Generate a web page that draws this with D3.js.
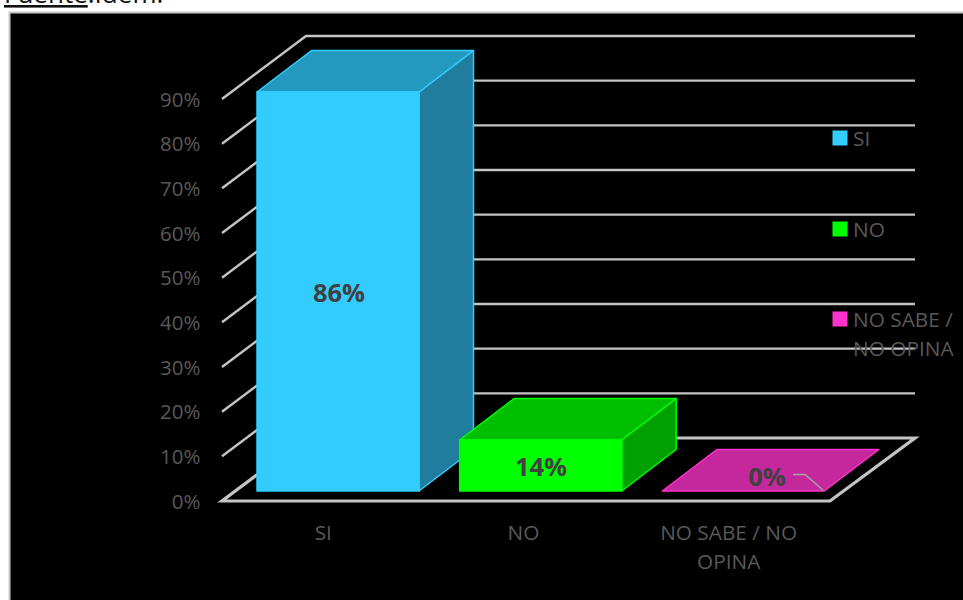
<!DOCTYPE html>
<html><head><meta charset="utf-8">
<script src="https://cdnjs.cloudflare.com/ajax/libs/d3/7.8.5/d3.min.js"></script>
<style>html,body{margin:0;padding:0;background:#fff;overflow:hidden}svg{display:block}text{font-family:"Open Sans",sans-serif}</style>
</head><body><svg id="c" width="963" height="600"></svg>
<script>
const categories = ["SI","NO","NO SABE / NO OPINA"];
const categoryLines = [["SI"],["NO"],["NO SABE / NO","OPINA"]];
const values = [86,14,0];
const valueLabels = ["86%","14%","0%"];
const axisTicks = [0,10,20,30,40,50,60,70,80,90];
const legendLines = [["SI"],["NO"],["NO SABE /","NO OPINA"]];
const frontColors = ["#33ccff","#00ff00","#c4289c"];
const topColors = ["#2499c0","#00bf00","#c4289c"];
const sideColors = ["#207d9e","#00a000","#c4289c"];
const edgeColors = ["#33ccff","#00ff00","#ff33cc"];
const legendColors = ["#33ccff","#00ff00","#ff33cc"];

const svg = d3.select("#c");
svg.append("rect").attr("x",9.5).attr("y",12.5).attr("width",970).attr("height",600)
  .attr("fill","#000").attr("stroke","#c8c8c8").attr("stroke-width",2);

// cropped source line above the chart
const src = svg.append("text").attr("x",4).attr("y",3).attr("font-size",26).attr("fill","#111");
src.append("tspan").attr("text-decoration","underline").text("Fuente");
src.append("tspan").text(":Idem.");

const y = d3.scaleLinear().domain([0,90]).range([501,99]);
const x = d3.scaleBand().domain(categories).range([222,830]);
const barY = d3.scaleLinear().domain([0,14,86]).range([491,440,92]);
const wall = {dx:84,dy:-63}, depth = {dx:54.5,dy:-41.5}, inset = 35, barW = 162;
const grid = "#c4c4c4", txt = "#595959", lab = "#404040";

const g = svg.append("g").attr("fill","none").attr("stroke",grid);
g.selectAll("path.g").data(axisTicks.slice(1)).join("path").attr("class","g")
  .attr("stroke-width",2.4)
  .attr("d",t=>{const yy=y(t);const p=d3.path();
     p.moveTo(222,yy);p.lineTo(222+wall.dx,yy+wall.dy);p.lineTo(915,yy+wall.dy);return p.toString();});
const fl = d3.path();
fl.moveTo(222,y(0));fl.lineTo(830,y(0));fl.lineTo(830+wall.dx+1,y(0)+wall.dy);
fl.lineTo(222+wall.dx,y(0)+wall.dy);fl.closePath();
g.append("path").attr("d",fl.toString()).attr("stroke-width",3.2).attr("stroke-linejoin","miter");

const poly = pts => "M"+pts.map(p=>p.join(",")).join("L")+"Z";
categories.forEach((c,i)=>{
  const x0=x(c)+inset, x1=x0+barW, yb=barY(0), yt=barY(values[i]);
  const b=svg.append("g").attr("stroke",edgeColors[i]).attr("stroke-width",1.5).attr("stroke-linejoin","round");
  if(values[i]>0){
    b.append("path").attr("fill",sideColors[i]).attr("d",poly([[x1,yb],[x1+depth.dx,yb+depth.dy],[x1+depth.dx,yt+depth.dy],[x1,yt]]));
    b.append("path").attr("fill",topColors[i]).attr("d",poly([[x0,yt],[x0+depth.dx,yt+depth.dy],[x1+depth.dx,yt+depth.dy],[x1,yt]]));
    b.append("path").attr("fill",frontColors[i]).attr("d",poly([[x0,yb],[x1,yb],[x1,yt],[x0,yt]]));
  } else {
    b.append("path").attr("fill",topColors[i]).attr("d",poly([[x0,yb],[x1,yb],[x1+depth.dx,yb+depth.dy],[x0+depth.dx,yb+depth.dy]]));
  }
});

// value axis
svg.append("g").selectAll("text").data(axisTicks).join("text")
  .attr("x",200.5).attr("y",t=>y(t)+7.5).attr("text-anchor","end").attr("font-size",20.5).attr("fill",txt)
  .text(t=>t+"%");

// category axis
const catNudge=[0,-2.5,0];
categories.forEach((c,i)=>{
  categoryLines[i].forEach((l,j)=>{
    svg.append("text").attr("x",x(c)+x.bandwidth()/2+catNudge[i]).attr("y",540+j*29).attr("text-anchor","middle")
      .attr("font-size",20.8).attr("fill",txt).text(l);
  });
});

// data labels
const labelPos = [[339,302],[541,476],[767,486]];
valueLabels.forEach((l,i)=>{
  svg.append("text").attr("x",labelPos[i][0]).attr("y",labelPos[i][1]).attr("text-anchor","middle")
    .attr("font-size",25.5).attr("font-weight",700).attr("fill",lab).text(l);
});
svg.append("path").attr("d","M793,474.5H805L823,490").attr("fill","none").attr("stroke","#a6a6a6").attr("stroke-width",1.5);

// legend
const legendY=[138,229,319];
legendLines.forEach((ls,i)=>{
  svg.append("rect").attr("x",832.5).attr("y",legendY[i]-7.5).attr("width",15).attr("height",15).attr("fill",legendColors[i]);
  ls.forEach((l,j)=>svg.append("text").attr("x",853).attr("y",legendY[i]+7.5+j*29).attr("font-size",20.8).attr("fill",txt).text(l));
});
</script></body></html>
